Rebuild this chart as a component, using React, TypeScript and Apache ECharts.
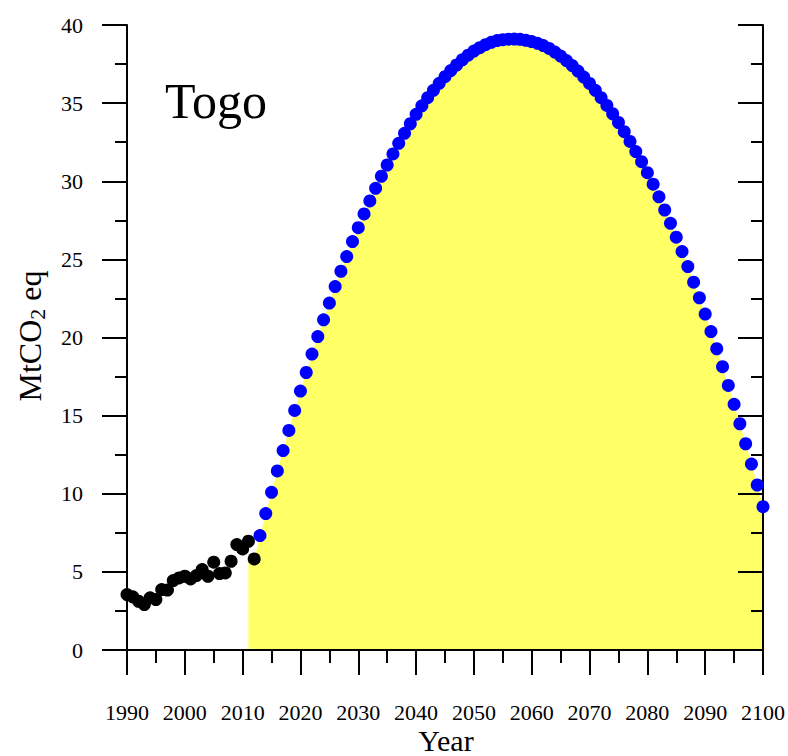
import React, { useEffect, useRef } from "react";
import * as echarts from "echarts";

const histYears: number[] = [
  1990, 1991, 1992, 1993, 1994, 1995, 1996, 1997, 1998, 1999, 2000, 2001,
  2002, 2003, 2004, 2005, 2006, 2007, 2008, 2009, 2010, 2011, 2012,
];
const histValues: number[] = [
  3.55, 3.4, 3.12, 2.91, 3.34, 3.23, 3.87, 3.84, 4.44, 4.61, 4.72, 4.55,
  4.76, 5.15, 4.72, 5.62, 4.89, 4.93, 5.68, 6.75, 6.47, 6.96, 5.83,
];

const projYears: number[] = Array.from({ length: 88 }, (_, i) => 2013 + i);
const projValues: number[] = [
  7.32, 8.73, 10.09, 11.46, 12.76, 14.05, 15.33, 16.57, 17.76, 18.94,
  20.06, 21.13, 22.2, 23.26, 24.24, 25.18, 26.14, 27.03, 27.91, 28.74,
  29.55, 30.32, 31.04, 31.75, 32.43, 33.07, 33.68, 34.28, 34.83, 35.35,
  35.82, 36.27, 36.69, 37.08, 37.44, 37.77, 38.07, 38.33, 38.55, 38.74,
  38.89, 39.0, 39.06, 39.09, 39.1, 39.08, 39.02, 38.94, 38.83, 38.68,
  38.5, 38.27, 38.01, 37.72, 37.4, 37.05, 36.67, 36.26, 35.82, 35.35,
  34.85, 34.32, 33.76, 33.17, 32.55, 31.9, 31.25, 30.55, 29.81, 29.0,
  28.16, 27.31, 26.42, 25.5, 24.54, 23.54, 22.54, 21.5, 20.38, 19.28,
  18.13, 16.93, 15.72, 14.48, 13.2, 11.9, 10.56, 9.17,
];

// yellow area begins at the base year
const fillLeadYears: number[] = [2011, 2012];
const fillLeadValues: number[] = [5.83, 5.83];

const xTicks = { min: 1990, max: 2100, step: 10 };
const yTicks = { min: 0, max: 40, step: 5 };

const FONT = "'Liberation Serif', 'Times New Roman', serif";

export default function App() {
  const ref = useRef<HTMLDivElement>(null);

  useEffect(() => {
    document.body.style.margin = "0";
    if (!ref.current) return;
    const chart = echarts.init(ref.current, null, { renderer: "svg" });

    const histData = histYears.map((y, i) => [y, histValues[i]]);
    const projData = projYears.map((y, i) => [y, projValues[i]]);
    const fillData = [
      ...fillLeadYears.map((y, i) => [y, fillLeadValues[i]]),
      ...projData,
    ];

    const lineStyle = { color: "#000", width: 2 };

    const makeX = (pos: "bottom" | "top") => ({
      type: "value",
      position: pos,
      min: xTicks.min,
      max: xTicks.max,
      interval: xTicks.step,
      z: 3,
      axisLine: { show: true, lineStyle },
      axisTick: { show: true, inside: pos === "top", length: 25, lineStyle },
      minorTick: { show: true, splitNumber: 2, length: 13, lineStyle },
      splitLine: { show: false },
      minorSplitLine: { show: false },
      axisLabel: {
        show: pos === "bottom",
        margin: 51,
        color: "#000",
        fontFamily: FONT,
        fontSize: 22,
        formatter: (v: number) => String(v),
      },
    });

    const makeY = (pos: "left" | "right") => ({
      type: "value",
      position: pos,
      min: yTicks.min,
      max: yTicks.max,
      interval: yTicks.step,
      z: 3,
      axisLine: { show: true, lineStyle },
      axisTick: { show: true, inside: pos === "right", length: 25, lineStyle },
      minorTick: { show: true, splitNumber: 2, length: 12, lineStyle },
      splitLine: { show: false },
      minorSplitLine: { show: false },
      axisLabel: {
        show: pos === "left",
        margin: 44,
        color: "#000",
        fontFamily: FONT,
        fontSize: 22,
      },
    });

    chart.setOption({
      animation: false,
      backgroundColor: "#fff",
      grid: { left: 127, right: 22, top: 25, bottom: 106, containLabel: false },
      xAxis: [makeX("bottom"), makeX("top")],
      yAxis: [makeY("left"), makeY("right")],
      graphic: [
        {
          type: "text",
          left: 165,
          top: 76,
          z: 10,
          style: {
            text: "Togo",
            fontFamily: FONT,
            fontSize: 50,
            fill: "#000",
          },
        },
        {
          type: "text",
          x: 446,
          y: 740,
          z: 10,
          style: {
            text: "Year",
            fontFamily: FONT,
            fontSize: 30,
            fill: "#000",
            align: "center",
            verticalAlign: "middle",
          },
        },
        {
          type: "text",
          x: 30,
          y: 336,
          rotation: Math.PI / 2,
          z: 10,
          style: {
            text: "MtCO{sub|2} eq",
            fontFamily: FONT,
            fontSize: 32,
            fill: "#000",
            align: "center",
            verticalAlign: "middle",
            rich: {
              sub: {
                fontFamily: FONT,
                fontSize: 22,
                lineHeight: 22,
                padding: [14, 0, 0, 0],
                fill: "#000",
              },
            },
          },
        },
      ],
      series: [
        {
          type: "line",
          xAxisIndex: 0,
          yAxisIndex: 0,
          data: fillData,
          symbol: "none",
          z: 1,
          lineStyle: { width: 0, opacity: 0 },
          areaStyle: { color: "#ffff66", opacity: 1 },
          silent: true,
        },
        {
          type: "scatter",
          xAxisIndex: 0,
          yAxisIndex: 0,
          data: histData,
          symbol: "circle",
          symbolSize: 13,
          itemStyle: { color: "#000", opacity: 1 },
          clip: false,
          z: 5,
        },
        {
          type: "scatter",
          xAxisIndex: 0,
          yAxisIndex: 0,
          data: projData,
          symbol: "circle",
          symbolSize: 13,
          itemStyle: { color: "#0000ff", opacity: 1 },
          clip: false,
          z: 5,
        },
      ],
    });

    return () => chart.dispose();
  }, []);

  return <div ref={ref} style={{ width: 788, height: 756 }} />;
}
